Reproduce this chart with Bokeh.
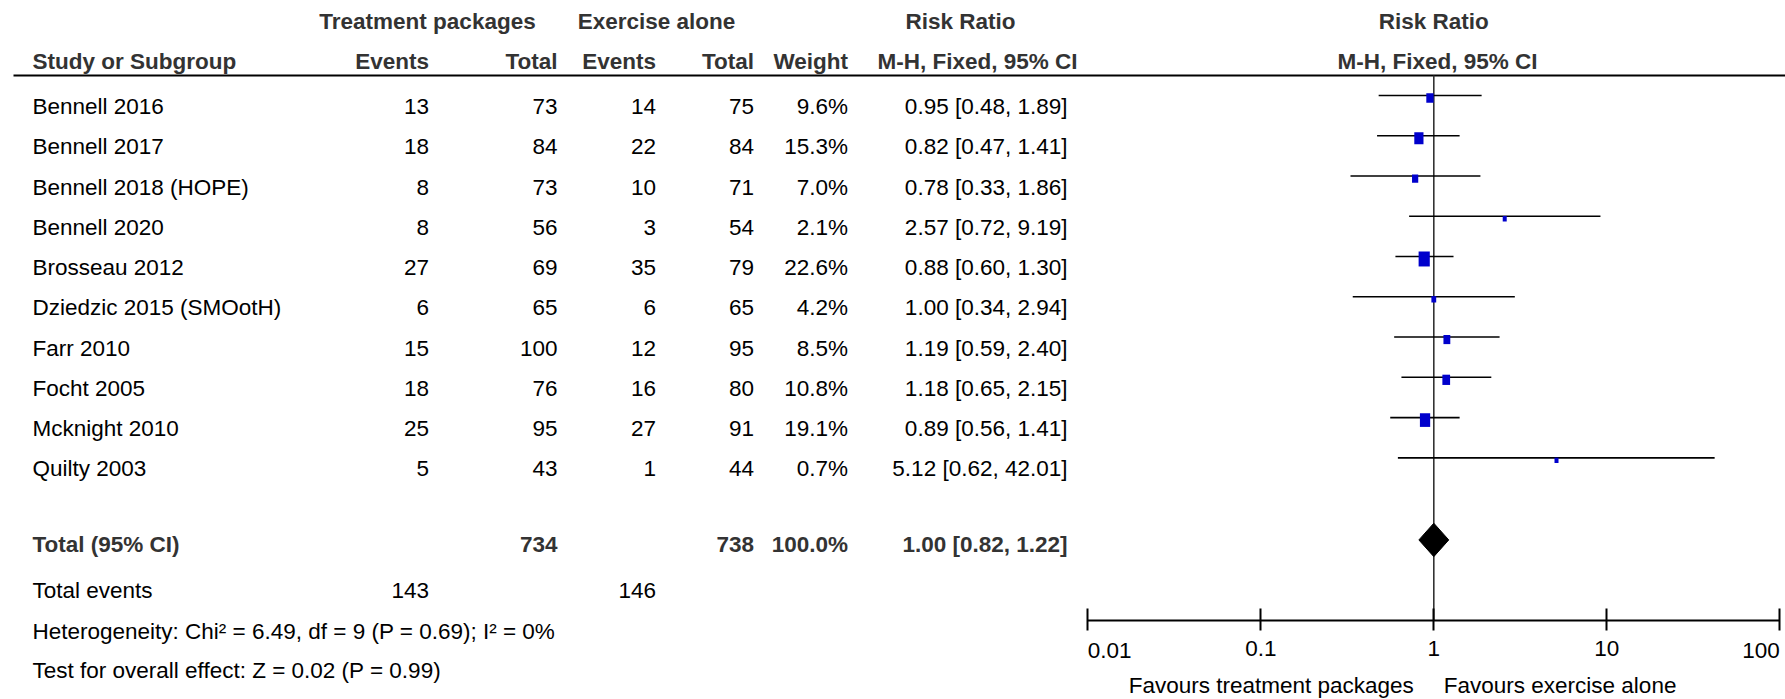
from bokeh.plotting import figure
from bokeh.models import (Range1d, FixedTicker, Label, LogAxis, LogScale,
                          CustomJSTickFormatter)
from bokeh.embed import file_html
from bokeh.resources import INLINE
from bokeh.core.properties import value

# ---------------- data ----------------
studies = ["Bennell 2016", "Bennell 2017", "Bennell 2018 (HOPE)", "Bennell 2020",
           "Brosseau 2012", "Dziedzic 2015 (SMOotH)", "Farr 2010", "Focht 2005",
           "Mcknight 2010", "Quilty 2003"]
tx_events = [13, 18, 8, 8, 27, 6, 15, 18, 25, 5]
tx_total = [73, 84, 73, 56, 69, 65, 100, 76, 95, 43]
ex_events = [14, 22, 10, 3, 35, 6, 12, 16, 27, 1]
ex_total = [75, 84, 71, 54, 79, 65, 95, 80, 91, 44]
weights = [9.6, 15.3, 7.0, 2.1, 22.6, 4.2, 8.5, 10.8, 19.1, 0.7]
rr = [0.95, 0.82, 0.78, 2.57, 0.88, 1.00, 1.19, 1.18, 0.89, 5.12]
ci_lo = [0.48, 0.47, 0.33, 0.72, 0.60, 0.34, 0.59, 0.65, 0.56, 0.62]
ci_hi = [1.89, 1.41, 1.86, 9.19, 1.30, 2.94, 2.40, 2.15, 1.41, 42.01]

total_tx, total_ex, total_weight = 734, 738, 100.0
total_rr, total_lo, total_hi = 1.00, 0.82, 1.22
events_tx, events_ex = 143, 146
heterogeneity = "Heterogeneity: Chi\u00b2 = 6.49, df = 9 (P = 0.69); I\u00b2 = 0%"
overall = "Test for overall effect: Z = 0.02 (P = 0.99)"
axis_ticks = [0.01, 0.1, 1, 10, 100]
favours_left = "Favours treatment packages"
favours_right = "Favours exercise alone"

# ---------------- layout / style ----------------
FONT = "Liberation Sans"
FS = "22.5px"
BOLD_C = "#333333"
W, H = 1785, 699
ROW0 = 106.0           # first study row centre (px from top)
ROW_PX = 40.26         # row pitch
AXIS_PX = 620.0        # forest axis line
ONE_PX = 1433.3        # x of RR = 1
DEC_PX = 173.0         # px per decade


def r_at(px):
    return (px - ROW0) / ROW_PX


R_H1, R_H2, R_LINE = r_at(20.7), r_at(61), r_at(75)
R_TOTAL, R_EVENTS, R_HET, R_TEST = 10.89, 12.02, 13.04, 14.02
n = len(studies)
rows = list(range(n))

p = figure(width=W, height=H, x_range=Range1d(0, W), y_range=Range1d(r_at(H), r_at(0)),
           output_backend="svg", toolbar_location=None, min_border=0,
           x_axis_location=None, y_axis_location=None)
p.grid.visible = False
p.outline_line_color = None
p.background_fill_color = "white"
p.border_fill_color = "white"
p.extra_x_ranges = {"rr": Range1d(10 ** (-ONE_PX / DEC_PX), 10 ** ((W - ONE_PX) / DEC_PX))}
p.extra_x_scales = {"rr": LogScale()}

common = dict(text_font=value(FONT), text_font_size=FS, text_baseline="middle")


def txt(x, y, t, align="left", bold=False, color="black", **kw):
    p.text(x=x, y=y, text=t, text_align=align,
           text_font_style="bold" if bold else "normal",
           text_color=color, **common, **kw)


X_NAME, X_TXE, X_TXT, X_EXE, X_EXT, X_W, X_CI = 32, 428.5, 557, 655.5, 753.5, 847.5, 1067

# ---------------- table ----------------
txt([427, 656], [R_H1, R_H1], ["Treatment packages", "Exercise alone"], "center", True, BOLD_C)
txt([960], [R_H1], ["Risk Ratio"], "center", True, BOLD_C)
txt([X_NAME], [R_H2], ["Study or Subgroup"], "left", True, BOLD_C)
txt([X_TXE, X_TXT, X_EXE, X_EXT, X_W], [R_H2] * 5,
    ["Events", "Total", "Events", "Total", "Weight"], "right", True, BOLD_C)
txt([977], [R_H2], ["M-H, Fixed, 95% CI"], "center", True, BOLD_C)
p.segment(x0=[13], y0=[R_LINE], x1=[W], y1=[R_LINE], line_color="black", line_width=2)

txt([X_NAME] * n, rows, studies, "left")
txt([X_TXE] * n, rows, [str(v) for v in tx_events], "right")
txt([X_TXT] * n, rows, [str(v) for v in tx_total], "right")
txt([X_EXE] * n, rows, [str(v) for v in ex_events], "right")
txt([X_EXT] * n, rows, [str(v) for v in ex_total], "right")
txt([X_W] * n, rows, [f"{w:.1f}%" for w in weights], "right")
txt([X_CI] * n, rows,
    [f"{a:.2f} [{b:.2f}, {c:.2f}]" for a, b, c in zip(rr, ci_lo, ci_hi)], "right")

txt([X_NAME], [R_TOTAL], ["Total (95% CI)"], "left", True, BOLD_C)
txt([X_TXT, X_EXT, X_W, X_CI], [R_TOTAL] * 4,
    [str(total_tx), str(total_ex), f"{total_weight:.1f}%",
     f"{total_rr:.2f} [{total_lo:.2f}, {total_hi:.2f}]"], "right", True, BOLD_C)
txt([X_NAME], [R_EVENTS], ["Total events"], "left")
txt([X_TXE, X_EXE], [R_EVENTS] * 2, [str(events_tx), str(events_ex)], "right")
txt([X_NAME, X_NAME], [R_HET, R_TEST], [heterogeneity, overall], "left")

# ---------------- forest ----------------
txt([1], [R_H1], ["Risk Ratio"], "center", True, BOLD_C, x_range_name="rr")
txt([1.05], [R_H2], ["M-H, Fixed, 95% CI"], "center", True, BOLD_C, x_range_name="rr")

R_AXIS = r_at(AXIS_PX)
p.segment(x0=[1], y0=[R_LINE], x1=[1], y1=[R_AXIS], line_color="#333333",
          line_width=1.6, x_range_name="rr")

ci_y = [r - 11 / ROW_PX for r in rows]
sq_y = [y + 2.5 / ROW_PX for y in ci_y]
sq_w = [max(4.0, 2.35 * w ** 0.5) for w in weights]
sq_h = [s * 1.33 for s in sq_w]
p.segment(x0=ci_lo, y0=ci_y, x1=ci_hi, y1=ci_y, line_color="black", line_width=1.6,
          x_range_name="rr")
p.rect(x=rr, y=sq_y, width=sq_w, height=sq_h, width_units="screen", height_units="screen",
       fill_color="#0000CC", line_color=None, x_range_name="rr")

yc = R_TOTAL - 5 / ROW_PX
hh = 16.7 / ROW_PX
p.patch(x=[total_lo, total_rr, total_hi, total_rr], y=[yc, yc - hh, yc, yc + hh],
        fill_color="black", line_color="black", line_width=1, x_range_name="rr")

xa = LogAxis(x_range_name="rr", fixed_location=R_AXIS)
xa.ticker = FixedTicker(ticks=axis_ticks)
xa.bounds = (axis_ticks[0], axis_ticks[-1])
xa.formatter = CustomJSTickFormatter(
    code="return (tick <= 0.011 || tick >= 99) ? '' : String(tick);")
xa.axis_line_width = 2
xa.axis_line_color = "black"
xa.major_tick_line_width = 2
xa.major_tick_line_color = "black"
xa.major_tick_in = 12
xa.major_tick_out = 10
xa.minor_tick_line_color = None
xa.major_label_text_font = FONT
xa.major_label_text_font_size = FS
xa.major_label_text_color = "black"
xa.major_label_standoff = 10
p.add_layout(xa, "below")

lab = dict(text_font=FONT, text_font_size=FS, text_baseline="middle", text_color="black",
           x_range_name="rr")
R_TICKLAB = r_at(650)
R_FAV = r_at(685)
p.add_layout(Label(x=axis_ticks[0], y=R_TICKLAB, text="0.01", text_align="left", **lab))
p.add_layout(Label(x=axis_ticks[-1], y=R_TICKLAB, text="100", text_align="right", **lab))
p.add_layout(Label(x=1, y=R_FAV, x_offset=-20, text=favours_left, text_align="right", **lab))
p.add_layout(Label(x=1, y=R_FAV, x_offset=10, text=favours_right, text_align="left", **lab))

open("out.html", "w").write(file_html(p, INLINE))
